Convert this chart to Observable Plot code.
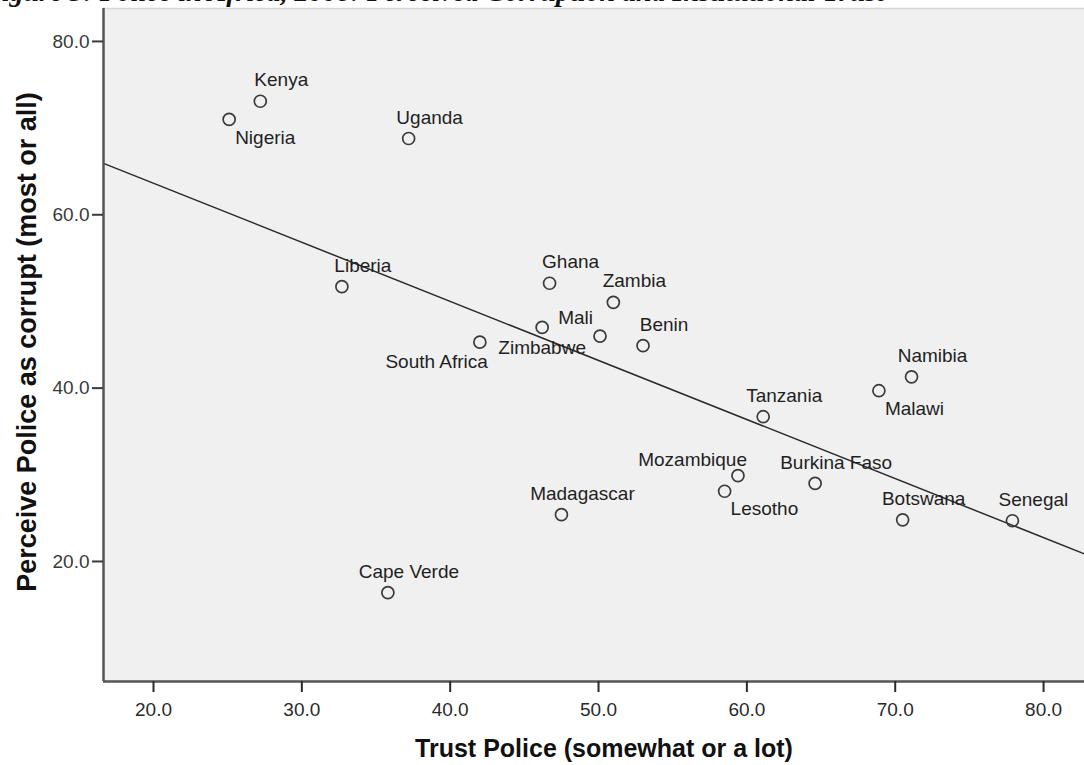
<!DOCTYPE html>
<html><head><meta charset="utf-8">
<script src="https://cdn.jsdelivr.net/npm/d3@7"></script>
<script src="https://cdn.jsdelivr.net/npm/@observablehq/plot@0.6"></script>
<style>
html,body{margin:0;padding:0;background:#fff;overflow:hidden}
#wrap{position:relative;width:1084px;height:765px;overflow:hidden}
#title{position:absolute;left:-17px;top:-22px;font:italic bold 28px "Liberation Serif",serif;line-height:28px;white-space:nowrap;color:#111}
#chart{position:absolute;left:0;top:0}
</style></head><body>
<div id="wrap"><div id="chart"></div><div id="title">Figure 5: Police in Africa, 2008: Perceived Corruption and Institutional Trust</div></div>
<script>
// ---- data ----
const countries = ["Kenya","Nigeria","Uganda","Liberia","Ghana","Zambia","Zimbabwe","Mali","Benin","South Africa","Namibia","Malawi","Tanzania","Mozambique","Lesotho","Burkina Faso","Madagascar","Botswana","Senegal","Cape Verde"];
const trustPolice = [27.2,25.1,37.2,32.7,46.7,51.0,46.2,50.1,53.0,42.0,71.1,68.9,61.1,59.4,58.5,64.6,47.5,70.5,77.9,35.8];
const perceiveCorrupt = [73.1,71.0,68.8,51.7,52.1,49.9,47.0,46.0,44.9,45.3,41.3,39.7,36.7,29.9,28.1,29.0,25.4,24.8,24.7,16.4];
const xTicks = [20,30,40,50,60,70,80];
const yTicks = [20,40,60,80];
const xTitle = "Trust Police (somewhat or a lot)";
const yTitle = "Perceive Police as corrupt (most or all)";
const xDomain = [16.63, 82.76];
const yDomain = [6.15, 83.8];

const data = countries.map((c, i) => ({country: c, trust: trustPolice[i], corrupt: perceiveCorrupt[i]}));

// least-squares fit line (drawn across the whole x domain, as SPSS does)
const mx = d3.mean(trustPolice), my = d3.mean(perceiveCorrupt);
const slope = d3.sum(data, d => (d.trust - mx) * (d.corrupt - my)) / d3.sum(data, d => (d.trust - mx) ** 2);
const intercept = my - slope * mx;
const fit = xDomain.map(x => ({trust: x, corrupt: intercept + slope * x}));

// label placement styles
const labelStyles = {
  above:      {textAnchor: "middle", dx: 21, dy: -21},
  belowRight: {textAnchor: "start",  dx: 6,  dy: 18},
  below:      {textAnchor: "middle", dx: 0,  dy: 20},
  belowLeft:  {textAnchor: "end",    dx: 8,  dy: 20},
  aboveLeft:  {textAnchor: "end",    dx: 9,  dy: -16},
  left:       {textAnchor: "end",    dx: -7, dy: -18}
};
const labelPlacement = {Nigeria: "belowRight", Malawi: "belowRight", Lesotho: "belowRight", Zimbabwe: "below", "South Africa": "belowLeft", Mozambique: "aboveLeft", Mali: "left"};
const placeOf = d => labelPlacement[d.country] || "above";

const labelMarks = Object.entries(labelStyles).map(([name, st]) =>
  Plot.text(data.filter(d => placeOf(d) === name), {
    x: "trust", y: "corrupt", text: "country",
    textAnchor: st.textAnchor, dx: st.dx, dy: st.dy,
    lineAnchor: "middle", fontSize: 19, fill: "#1f1f1f"
  })
);

const chart = Plot.plot({
  width: 1084,
  height: 765,
  marginLeft: 103,
  marginRight: 0,
  marginTop: 8,
  marginBottom: 84,
  style: {fontFamily: "'Liberation Sans', Arial, sans-serif", background: "transparent"},
  x: {domain: xDomain},
  y: {domain: yDomain},
  marks: [
    Plot.frame({fill: "#f0f0f0", stroke: null}),
    Plot.ruleY([yDomain[1]], {stroke: "#d8d8d8", strokeWidth: 1.5}),
    Plot.line(fit, {x: "trust", y: "corrupt", stroke: "#2a2a2a", strokeWidth: 1.5}),
    Plot.dot(data, {x: "trust", y: "corrupt", r: 6, stroke: "#3a3a3a", strokeWidth: 1.7, fill: "none"}),
    ...labelMarks,
    Plot.ruleX([xDomain[0]], {stroke: "#555", strokeWidth: 2.5}),
    Plot.ruleY([yDomain[0]], {stroke: "#555", strokeWidth: 2.5}),
    Plot.axisX({ticks: xTicks, tickFormat: d => d.toFixed(1), tickSize: 11, tickPadding: 10, fontSize: 19, color: "#2a2a2a", strokeWidth: 2, label: null}),
    Plot.axisY({ticks: yTicks, tickFormat: d => d.toFixed(1), tickSize: 11, tickPadding: 3, fontSize: 19, color: "#3a3a3a", strokeWidth: 2, label: null}),
    Plot.text([xTitle], {frameAnchor: "bottom", dx: 10, dy: 67, textAnchor: "middle", lineAnchor: "middle", fontSize: 25, fontWeight: "bold", fill: "#111"}),
    Plot.text([yTitle], {frameAnchor: "left", dx: -76, dy: -3, rotate: -90, textAnchor: "middle", lineAnchor: "middle", fontSize: 27, fontWeight: "bold", fill: "#111"})
  ]
});
document.getElementById("chart").appendChild(chart);
</script>
</body></html>
